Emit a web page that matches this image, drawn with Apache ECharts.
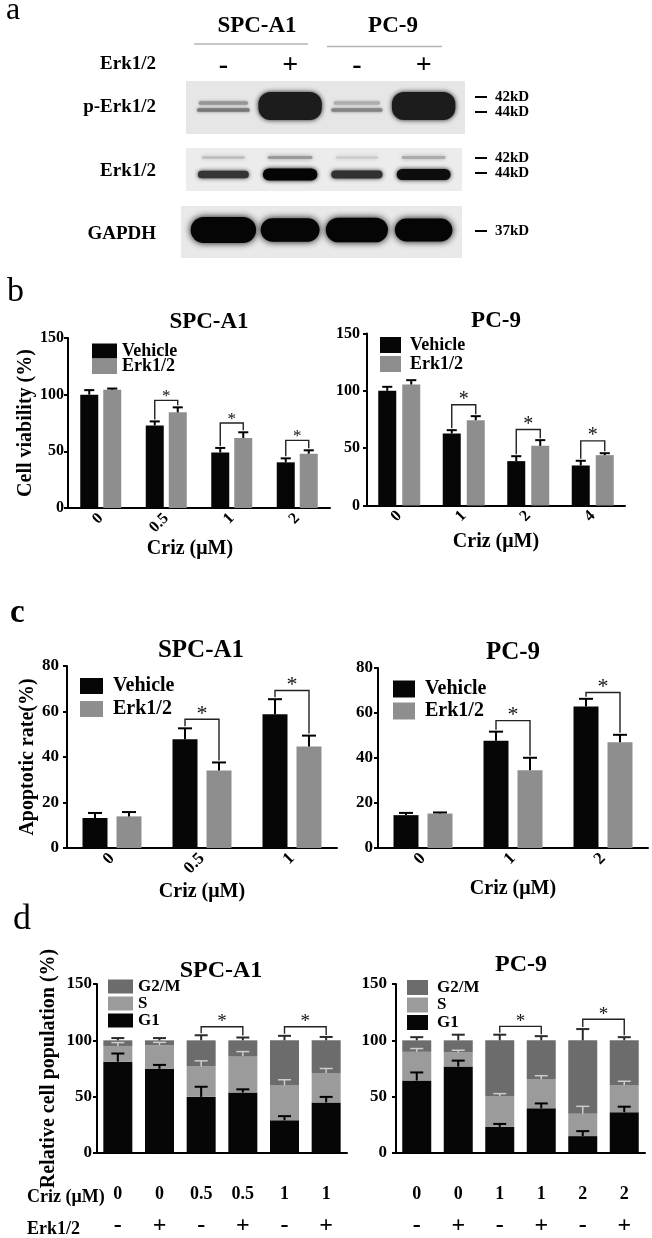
<!DOCTYPE html>
<html>
<head>
<meta charset="utf-8">
<script src="https://cdn.jsdelivr.net/npm/echarts/dist/echarts.min.js"></script>
<style>html,body{margin:0;padding:0;background:#fff}#c{width:652px;height:1238px}</style>
</head>
<body>
<div id="c"></div>
<script>
// ================= DATA =================
// ---- Panel a : western blot ----
const blotLanes = ['SPC-A1 -', 'SPC-A1 +', 'PC-9 -', 'PC-9 +'];
const blotLaneMarks = ['-', '+', '-', '+'];
const blotRows = ['p-Erk1/2', 'Erk1/2', 'GAPDH'];
const blotBandTypes = ['42kD', '44kD', '42/44kD', '37kD'];
// [lane, row, band, relative intensity]
const blotBands = [
  [0, 0, '42kD', 0.45], [0, 0, '44kD', 0.62],
  [1, 0, '42/44kD', 1.0],
  [2, 0, '42kD', 0.3], [2, 0, '44kD', 0.55],
  [3, 0, '42/44kD', 1.0],
  [0, 1, '42kD', 0.12], [0, 1, '44kD', 0.72],
  [1, 1, '42kD', 0.25], [1, 1, '44kD', 0.98],
  [2, 1, '42kD', 0.07], [2, 1, '44kD', 0.74],
  [3, 1, '42kD', 0.18], [3, 1, '44kD', 0.93],
  [0, 2, '37kD', 1.0], [1, 2, '37kD', 0.9], [2, 2, '37kD', 0.95], [3, 2, '37kD', 0.88]
];
const blotMarkers = [[0, '42kD'], [0, '44kD'], [1, '42kD'], [1, '44kD'], [2, '37kD']];

// ---- Panel b : cell viability (%) ----
const viabSpcDoses = ['0', '0.5', '1', '2'];
const viabSpcVehicle = [100, 72.9, 49, 40.3];
const viabSpcVehicleSem = [4, 3.5, 4, 3.5];
const viabSpcErk = [104.4, 84.4, 61.8, 47.9];
const viabSpcErkSem = [1, 4.4, 5, 3];
const viabSpcSigDose = [1, 2, 3];
const viabSpcSigLevel = [95, 75, 59.7];

const viabPcDoses = ['0', '1', '2', '4'];
const viabPcVehicle = [100, 62.8, 38.7, 34.9];
const viabPcVehicleSem = [3.5, 2.9, 4.3, 4.1];
const viabPcErk = [105.5, 74.4, 52, 43.9];
const viabPcErkSem = [3.8, 3.5, 5, 1.7];
const viabPcSigDose = [1, 2, 3];
const viabPcSigLevel = [87.8, 66.3, 56.4];

// ---- Panel c : apoptotic rate (%) ----
const apoSpcDoses = ['0', '0.5', '1'];
const apoSpcVehicle = [13.2, 47.8, 58.8];
const apoSpcVehicleSem = [2.2, 4.8, 6.6];
const apoSpcErk = [13.9, 34.1, 44.6];
const apoSpcErkSem = [1.9, 3.5, 4.8];
const apoSpcSigDose = [1, 2];
const apoSpcSigLevel = [56.6, 69.2];

const apoPcDoses = ['0', '1', '2'];
const apoPcVehicle = [14.6, 47.7, 62.9];
const apoPcVehicleSem = [1, 4, 3.4];
const apoPcErk = [15.3, 34.6, 47];
const apoPcErkSem = [0.5, 5.5, 3.3];
const apoPcSigDose = [1, 2];
const apoPcSigLevel = [56.6, 69.1];

// ---- Panel d : cell cycle (%) ----
const cycSpcCriz = ['0', '0', '0.5', '0.5', '1', '1'];
const cycSpcErk = ['-', '+', '-', '+', '-', '+'];
const cycSpcG1 = [81, 74.7, 49.8, 53.6, 29, 44.9];
const cycSpcG1Sem = [7.3, 3.5, 9, 2.9, 3.7, 4.9];
const cycSpcS = [14, 21, 27, 32.4, 31, 26.1];
const cycSpcSSem = [3, 2.5, 5, 4, 5, 4];
const cycSpcG2M = [5, 4.3, 23.2, 14, 40, 29];
const cycSpcG2MSem = [2, 2, 4.5, 2.5, 4, 3];
const cycSpcSigPairs = [[2, 3], [4, 5]];
const cycSpcSigLevel = [112, 112];

const cycPcCriz = ['0', '0', '1', '1', '2', '2'];
const cycPcErk = ['-', '+', '-', '+', '-', '+'];
const cycPcG1 = [64.3, 76.7, 23.2, 39.7, 15, 36.2];
const cycPcG1Sem = [7.2, 5.3, 2.6, 4.3, 4.4, 4.9];
const cycPcS = [25.5, 12.5, 27.5, 26, 19.8, 24];
const cycPcSSem = [2.9, 2, 2, 2.9, 6.6, 3.5];
const cycPcG2M = [10.2, 10.8, 49.3, 34.3, 65.2, 39.8];
const cycPcG2MSem = [2.8, 5, 5, 3.7, 10, 2.8];
const cycPcSigPairs = [[2, 3], [4, 5]];
const cycPcSigLevel = [112.4, 118.7];

// ================= STYLE / LAYOUT =================
const FONT = '"Liberation Serif", "Times New Roman", serif';
const BLACK = '#060606', GREY = '#8e8e8e', S_GREY = '#9b9b9b', G2M_GREY = '#6c6c6c';
const bandOffset = [{ '42kD': -4.5, '44kD': 2.5, '42/44kD': -1.5 }, { '42kD': -13.5, '44kD': 3.5 }, { '37kD': -4.5 }];
const markerOffset = [{ '42kD': -10.5, '44kD': 4.5 }, { '42kD': -13, '44kD': 2 }, { '37kD': -3.5 }];
const boxExtent = [[-26.5, 26.5, -4, 8], [-23, 20, -4, 5], [-28.5, 23.5, -9, 5]];
const boxFill = ['#e6e6e6', '#ececec', '#e9e9e9'];

function tx(size, weight) { return { fontFamily: FONT, fontWeight: weight || 'bold', fontSize: size, color: '#000' }; }
function grey(l) { l = Math.max(0, Math.min(255, Math.round(l))); const h = l.toString(16).padStart(2, '0'); return '#' + h + h + h; }

const grids = [], xAxes = [], yAxes = [], series = [], legends = [], graphics = [];

// ---------- panel a ----------
grids.push({ left: 190, top: 75.75, width: 267, height: 190.5 });
xAxes.push({ gridIndex: 0, type: 'category', position: 'top', data: blotLanes,
  axisLine: { show: false }, axisTick: { show: false }, splitLine: { show: false },
  axisLabel: Object.assign(tx(28), { margin: -4, interval: 0, formatter: (v, i) => blotLaneMarks[i] }) });
yAxes.push({ gridIndex: 0, type: 'category', inverse: true, data: blotRows,
  axisLine: { show: false }, axisTick: { show: false }, splitLine: { show: false },
  axisLabel: Object.assign(tx(19), { margin: 34 }) });
series.push({ type: 'custom', name: 'blot-bg', xAxisIndex: 0, yAxisIndex: 0, z: 1,
  data: blotRows.map((r, i) => [0, i]), encode: { x: 0, y: 1 },
  renderItem: (params, api) => {
    const row = api.value(1), cs = params.coordSys, cy = api.coord([0, row])[1], e = boxExtent[row];
    return { type: 'rect', shape: { x: cs.x + e[2], y: cy + e[0], width: cs.width - e[2] + e[3], height: e[1] - e[0] },
      style: { fill: boxFill[row] } };
  } });
series.push({ type: 'custom', name: 'blot-bands', xAxisIndex: 0, yAxisIndex: 0, z: 2,
  data: blotBands.map(b => [b[0], b[1], b[3], blotBandTypes.indexOf(b[2])]), encode: { x: 0, y: 1 },
  renderItem: (params, api) => {
    const lane = api.value(0), row = api.value(1), it = api.value(2), kd = blotBandTypes[api.value(3)];
    const c = api.coord([lane, row]), bw = api.size([1, 0])[0];
    const cy = c[1] + bandOffset[row][kd];
    let w, h, r, col, blur;
    if (kd === '42/44kD') { w = bw * 0.95; h = 28; r = 12; col = '#1c1c1c'; blur = 5; }
    else if (row === 0) { w = bw * (0.6 + 0.3 * it); h = 3.5; r = 1.5; col = grey(225 - 170 * it); blur = 3; }
    else if (row === 1) { w = bw * (0.62 + 0.2 * it); h = 2.5 + 10 * it * it; r = h / 2; col = grey(230 - 230 * Math.pow(it, 0.8)); blur = 4; }
    else { w = bw * 0.98 * it; h = 26 * it; r = h / 2; col = '#050505'; blur = 7; }
    return { type: 'rect', shape: { x: c[0] - w / 2, y: cy - h / 2, width: w, height: h, r: r },
      style: { fill: col, shadowBlur: blur, shadowColor: col } };
  } });
series.push({ type: 'custom', name: 'blot-markers', xAxisIndex: 0, yAxisIndex: 0, z: 2,
  data: blotMarkers.map(m => [3, m[0], blotBandTypes.indexOf(m[1])]), encode: { x: 0, y: 1 },
  renderItem: (params, api) => {
    const row = api.value(1), kd = blotBandTypes[api.value(2)], cs = params.coordSys;
    const y = api.coord([3, row])[1] + markerOffset[row][kd], x = cs.x + cs.width;
    return { type: 'group', children: [
      { type: 'line', shape: { x1: x + 18, y1: y, x2: x + 30, y2: y }, style: { stroke: '#000', lineWidth: 2 } },
      { type: 'text', x: x + 38, y: y, style: { text: kd, fontFamily: FONT, fontWeight: 'bold', fontSize: 15, fill: '#000', align: 'left', verticalAlign: 'middle' } }
    ] };
  } });

// ---------- grouped bar charts (b, c) ----------
function addGrouped(grid, doses, veh, vehSem, erk, erkSem, sigDose, sigLevel, cfg) {
  const gi = grids.length;
  grids.push(grid);
  xAxes.push({ gridIndex: gi, type: 'category', data: doses,
    axisLine: { lineStyle: { color: '#000', width: 2 } },
    axisTick: { alignWithLabel: true, length: 5, lineStyle: { color: '#000', width: 2 } },
    axisLabel: Object.assign(tx(cfg.xFont), { rotate: 45, margin: 8, interval: 0 }),
    name: 'Criz (μM)', nameLocation: 'middle', nameGap: cfg.xNameGap,
    nameTextStyle: Object.assign(tx(20), { padding: cfg.xNamePad || 0 }) });
  yAxes.push({ gridIndex: gi, type: 'value', min: 0, max: cfg.yMax, interval: cfg.yInt,
    axisLine: { show: true, lineStyle: { color: '#000', width: 2 } },
    axisTick: { show: true, length: 4, lineStyle: { color: '#000', width: 2 } },
    axisLabel: Object.assign(tx(cfg.yFont), { margin: cfg.yMargin }),
    splitLine: { show: false },
    name: cfg.yName || '', nameLocation: 'middle', nameGap: cfg.yNameGap || 28, nameTextStyle: tx(20) });
  const off = (cfg.barW + cfg.gap) / 2, cap = cfg.barW * 0.28;
  const barGap = (cfg.gap / cfg.barW * 100) + '%';
  series.push({ type: 'bar', name: 'Vehicle', xAxisIndex: gi, yAxisIndex: gi, data: veh, barWidth: cfg.barW, barGap: barGap, itemStyle: { color: BLACK } });
  series.push({ type: 'bar', name: 'Erk1/2', xAxisIndex: gi, yAxisIndex: gi, data: erk, barWidth: cfg.barW, barGap: barGap, itemStyle: { color: GREY } });
  series.push({ type: 'custom', name: 'sem' + gi, xAxisIndex: gi, yAxisIndex: gi, z: 3,
    data: veh.map((v, i) => [i, v, vehSem[i], -1]).concat(erk.map((v, i) => [i, v, erkSem[i], 1])),
    encode: { x: 0, y: 1 },
    renderItem: (params, api) => {
      const i = api.value(0), top = api.value(1), sem = api.value(2), side = api.value(3);
      const a = api.coord([i, top]), b = api.coord([i, top + sem]);
      const x = a[0] + side * off;
      return { type: 'group', children: [
        { type: 'line', shape: { x1: x, y1: a[1], x2: x, y2: b[1] }, style: { stroke: '#000', lineWidth: 2 } },
        { type: 'line', shape: { x1: x - cap, y1: b[1], x2: x + cap, y2: b[1] }, style: { stroke: '#000', lineWidth: 2 } }
      ] };
    } });
  series.push({ type: 'custom', name: 'sig' + gi, xAxisIndex: gi, yAxisIndex: gi, z: 3,
    data: sigDose.map((d, k) => [d, sigLevel[k], veh[d] + vehSem[d], erk[d] + erkSem[d]]),
    encode: { x: 0, y: 1 },
    renderItem: (params, api) => {
      const i = api.value(0), lvl = api.value(1);
      const p = api.coord([i, lvl]);
      const ya = api.coord([i, api.value(2)])[1] - 2, yb = api.coord([i, api.value(3)])[1] - 2;
      const xa = p[0] - off, xb = p[0] + off;
      return { type: 'group', children: [
        { type: 'polyline', shape: { points: [[xa, ya], [xa, p[1]], [xb, p[1]], [xb, yb]] }, style: { stroke: '#222', lineWidth: 1.4, fill: null } },
        { type: 'text', x: p[0], y: p[1] - cfg.starGap + 0.12 * cfg.star, style: { text: '*', fontFamily: FONT, fontSize: cfg.star, fill: '#111', align: 'center', verticalAlign: 'middle' } }
      ] };
    } });
  legends.push({ left: cfg.leg[0], top: cfg.leg[1], orient: 'vertical', padding: 0, icon: 'rect', selectedMode: false,
    itemWidth: cfg.leg[2], itemHeight: cfg.leg[3], itemGap: cfg.leg[4], data: ['Vehicle', 'Erk1/2'],
    textStyle: Object.assign(tx(cfg.legFont), { lineHeight: cfg.leg[3], padding: [0, 0, 0, cfg.leg[5]] }) });
}

addGrouped({ left: 68, top: 338, width: 262, height: 170 }, viabSpcDoses, viabSpcVehicle, viabSpcVehicleSem, viabSpcErk, viabSpcErkSem, viabSpcSigDose, viabSpcSigLevel,
  { barW: 18, gap: 5, xFont: 16, yFont: 16, yMargin: 4, yMax: 150, yInt: 50, xNameGap: 27, xNamePad: [0, 18, 0, 0], yName: 'Cell viability (%)', yNameGap: 28,
    star: 17, starGap: 6, leg: [92, 342, 25, 15, -2.5, 0], legFont: 18 });
addGrouped({ left: 367, top: 333.5, width: 258, height: 172 }, viabPcDoses, viabPcVehicle, viabPcVehicleSem, viabPcErk, viabPcErkSem, viabPcSigDose, viabPcSigLevel,
  { barW: 18, gap: 6, xFont: 16, yFont: 16, yMargin: 7, yMax: 150, yInt: 50, xNameGap: 26,
    star: 20, starGap: 7, leg: [380, 336, 21, 16, 1, 4], legFont: 18 });
addGrouped({ left: 67, top: 666, width: 270, height: 182 }, apoSpcDoses, apoSpcVehicle, apoSpcVehicleSem, apoSpcErk, apoSpcErkSem, apoSpcSigDose, apoSpcSigLevel,
  { barW: 25, gap: 9, xFont: 17, yFont: 17, yMargin: 8, yMax: 80, yInt: 20, xNameGap: 34, yName: 'Apoptotic rate(%)', yNameGap: 28,
    star: 22, starGap: 8, leg: [80, 676, 23, 16, 3, 5], legFont: 20 });
addGrouped({ left: 378, top: 668, width: 270, height: 180 }, apoPcDoses, apoPcVehicle, apoPcVehicleSem, apoPcErk, apoPcErkSem, apoPcSigDose, apoPcSigLevel,
  { barW: 25, gap: 9, xFont: 17, yFont: 17, yMargin: 5, yMax: 80, yInt: 20, xNameGap: 31,
    star: 22, starGap: 8, leg: [393, 679, 22, 17, 2, 5], legFont: 20 });

// ---------- stacked cell-cycle charts (d) ----------
function addCycle(grid, criz, erkMarks, g1, g1Sem, s, sSem, g2m, g2mSem, sigPairs, sigLevel, cfg) {
  const gi = grids.length;
  grids.push(grid);
  xAxes.push({ gridIndex: gi, type: 'category', data: criz.map((c, i) => c + '|' + erkMarks[i] + '|' + i),
    axisLine: { lineStyle: { color: '#000', width: 2 } }, axisTick: { show: false },
    axisLabel: { interval: 0, margin: 25, formatter: v => { const p = v.split('|'); return '{c|' + p[0] + '}\n{e|' + p[1] + '}'; },
      rich: { c: Object.assign(tx(18), { lineHeight: 32 }), e: Object.assign(tx(24), { lineHeight: 32 }) } } });
  yAxes.push({ gridIndex: gi, type: 'value', min: 0, max: 150, interval: 50,
    axisLine: { show: true, lineStyle: { color: '#000', width: 2 } },
    axisTick: { show: true, length: 4, lineStyle: { color: '#000', width: 2 } },
    axisLabel: Object.assign(tx(17), { margin: cfg.yMargin }), splitLine: { show: false },
    name: cfg.yName || '', nameLocation: 'middle', nameGap: 38, nameTextStyle: tx(20) });
  const stack = 'cyc' + gi, bw = 29, cap = 6.5;
  series.push({ type: 'bar', name: 'G1', stack, xAxisIndex: gi, yAxisIndex: gi, data: g1, barWidth: bw, itemStyle: { color: BLACK } });
  series.push({ type: 'bar', name: 'S', stack, xAxisIndex: gi, yAxisIndex: gi, data: s, barWidth: bw, itemStyle: { color: S_GREY } });
  series.push({ type: 'bar', name: 'G2/M', stack, xAxisIndex: gi, yAxisIndex: gi, data: g2m, barWidth: bw, itemStyle: { color: G2M_GREY } });
  const semColor = ['#000', '#cdcdcd', '#2a2a2a'], semWidth = [2, 1.5, 2];
  const errData = g1.map((v, i) => [i, v, g1Sem[i], 0])
    .concat(s.map((v, i) => [i, g1[i] + v, sSem[i], 1]))
    .concat(g2m.map((v, i) => [i, g1[i] + s[i] + v, g2mSem[i], 2]));
  series.push({ type: 'custom', name: 'sem' + gi, xAxisIndex: gi, yAxisIndex: gi, z: 3, data: errData, encode: { x: 0, y: 1 },
    renderItem: (params, api) => {
      const i = api.value(0), top = api.value(1), sem = api.value(2), k = api.value(3);
      const a = api.coord([i, top]), b = api.coord([i, top + sem]);
      const st = { stroke: semColor[k], lineWidth: semWidth[k] };
      return { type: 'group', children: [
        { type: 'line', shape: { x1: a[0], y1: a[1], x2: a[0], y2: b[1] }, style: st },
        { type: 'line', shape: { x1: a[0] - cap, y1: b[1], x2: a[0] + cap, y2: b[1] }, style: st }
      ] };
    } });
  const totals = g1.map((v, i) => v + s[i] + g2m[i]);
  series.push({ type: 'custom', name: 'sig' + gi, xAxisIndex: gi, yAxisIndex: gi, z: 3,
    data: sigPairs.map((pr, k) => [pr[0], sigLevel[k], pr[1], totals[pr[0]] + g2mSem[pr[0]], totals[pr[1]] + g2mSem[pr[1]]]),
    encode: { x: 0, y: 1 },
    renderItem: (params, api) => {
      const a = api.value(0), lvl = api.value(1), b = api.value(2);
      const pa = api.coord([a, lvl]), pb = api.coord([b, lvl]);
      const ya = api.coord([a, api.value(3)])[1] - 2, yb = api.coord([b, api.value(4)])[1] - 2;
      return { type: 'group', children: [
        { type: 'polyline', shape: { points: [[pa[0], ya], [pa[0], pa[1]], [pb[0], pb[1]], [pb[0], yb]] }, style: { stroke: '#222', lineWidth: 1.4, fill: null } },
        { type: 'text', x: (pa[0] + pb[0]) / 2, y: pa[1] - 7 + 0.12 * 19, style: { text: '*', fontFamily: FONT, fontSize: 19, fill: '#111', align: 'center', verticalAlign: 'middle' } }
      ] };
    } });
  legends.push({ left: cfg.leg[0], top: cfg.leg[1], orient: 'vertical', padding: 0, icon: 'rect', selectedMode: false,
    itemWidth: cfg.leg[2], itemHeight: cfg.leg[3], itemGap: cfg.leg[4], data: ['G2/M', 'S', 'G1'],
    textStyle: Object.assign(tx(17), { lineHeight: cfg.leg[3], padding: [0, 0, 0, cfg.leg[5]] }) });
}
addCycle({ left: 97, top: 984, width: 250, height: 173 }, cycSpcCriz, cycSpcErk, cycSpcG1, cycSpcG1Sem, cycSpcS, cycSpcSSem, cycSpcG2M, cycSpcG2MSem, cycSpcSigPairs, cycSpcSigLevel,
  { yMargin: 5, yName: 'Relative cell population (%)', leg: [108, 978, 25, 14, 0, 0] });
addCycle({ left: 396, top: 984, width: 249, height: 173 }, cycPcCriz, cycPcErk, cycPcG1, cycPcG1Sem, cycPcS, cycPcSSem, cycPcG2M, cycPcG2MSem, cycPcSigPairs, cycPcSigLevel,
  { yMargin: 9, leg: [407, 979, 21, 15, 0.5, 4] });

// ---------- static text ----------
function txt(text, x, y, size, weight, align) {
  graphics.push({ type: 'text', x: x, y: y, style: { text: text, fontFamily: FONT, fontSize: size, fontWeight: weight || 'bold', fill: '#000', align: align || 'center', verticalAlign: 'middle' } });
}
txt('a', 6, 11, 32, 'normal', 'left');
txt('SPC-A1', 257, 26.5, 23);
txt('PC-9', 393, 26.5, 23);
graphics.push({ type: 'line', shape: { x1: 194, y1: 44, x2: 308, y2: 44 }, style: { stroke: '#b4b4b4', lineWidth: 1.5 } });
graphics.push({ type: 'line', shape: { x1: 327, y1: 46.5, x2: 442, y2: 46.5 }, style: { stroke: '#b4b4b4', lineWidth: 1.5 } });
txt('Erk1/2', 156, 64, 19, 'bold', 'right');
txt('b', 7, 292.5, 34, 'normal', 'left');
txt('SPC-A1', 209, 322.5, 23);
txt('PC-9', 496, 321.5, 23);
txt('c', 10, 613, 33, 'bold', 'left');
txt('SPC-A1', 201, 650.5, 25);
txt('PC-9', 513, 652.5, 25);
txt('d', 13, 920, 36, 'normal', 'left');
txt('SPC-A1', 221, 970.5, 24);
txt('PC-9', 521, 964.5, 24);
txt('Criz (μM)', 27, 1197, 18, 'bold', 'left');
txt('Erk1/2', 27, 1229, 18, 'bold', 'left');

const chart = echarts.init(document.getElementById('c'), null, { renderer: 'canvas' });
chart.setOption({
  animation: false,
  backgroundColor: '#fff',
  grid: grids, xAxis: xAxes, yAxis: yAxes, series: series, legend: legends, graphic: graphics
});
</script>
</body>
</html>
